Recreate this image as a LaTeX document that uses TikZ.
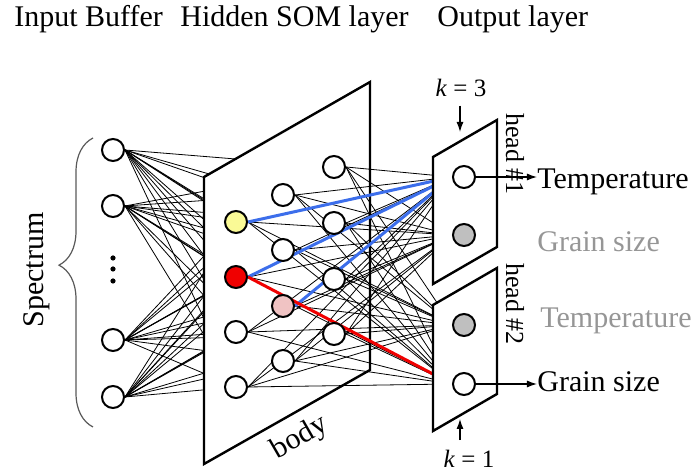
\documentclass[tikz,border=0pt]{standalone}
\usepackage{fontspec}
\setmainfont{Liberation Serif}
\usetikzlibrary{positioning,arrows.meta,decorations.pathreplacing}

\definecolor{bmu_yellow}{RGB}{250,250,150}
\definecolor{bmu_red}{RGB}{240,0,0}
\definecolor{nbr_pink}{RGB}{240,195,195}
\definecolor{win_blue}{RGB}{60,110,235}
\definecolor{off_gray}{RGB}{150,150,150}

\pgfdeclarelayer{wires}
\pgfdeclarelayer{sheet}
\pgfdeclarelayer{links}
\pgfsetlayers{wires,sheet,links,main}

\begin{document}
\begin{tikzpicture}[
    x=0.5pt, y=-0.5pt,
    every node/.style={font=\fontsize{15}{18}\selectfont, inner sep=0pt},
    unit_node/.style={circle, draw, line width=1pt, fill=white, minimum size=11pt},
    out_node/.style={unit_node, fill=gray!50},
    sheet_plane/.style={draw, line width=1.2pt, fill=white},
    wire/.style={line width=0.4pt},
    hot_wire/.style={line width=1.5pt},
    out_arrow/.style={-{Latex[length=5pt,width=3.5pt]}, line width=0.6pt},
    k_label/.style={font=\fontsize{12.5}{15}\selectfont},
    head_label/.style={font=\fontsize{13}{15}\selectfont, rotate=-90},
    off_text/.style={text=off_gray}
]

\useasboundingbox (0,0) rectangle (693,474);

% Layer titles
\node[anchor=base west] (t_in) at (14,27) {Input Buffer};
\node[anchor=base west] (t_som) at (180,27) {Hidden SOM layer};
\node[anchor=base west] (t_out) at (437,27) {Output layer};

% Input buffer
\node[unit_node] (i1) at (113,150) {};
\node[unit_node] (i2) at (113,206) {};
\node[unit_node] (i3) at (113,340) {};
\node[unit_node] (i4) at (113,397) {};
\foreach \y in {258,269,281} \fill (113,\y) circle (1.3pt);

% Spectrum brace
\draw[gray!70!black, line width=0.6pt, decorate,
      decoration={brace, amplitude=17pt, aspect=0.56}] (93,427) -- (93,138);
\node[rotate=90] (spec) at (37,270) {Spectrum};

% Hidden SOM nodes
\node[unit_node, fill=bmu_yellow] (h11) at (236,222) {};
\node[unit_node, fill=bmu_red] (h12) at (236,277) {};
\node[unit_node] (h13) at (236,332) {};
\node[unit_node] (h14) at (236,387) {};
\node[unit_node] (h21) at (283,195) {};
\node[unit_node] (h22) at (283,250) {};
\node[unit_node, fill=nbr_pink] (h23) at (283,306) {};
\node[unit_node] (h24) at (283,361) {};
\node[unit_node] (h31) at (334,167) {};
\node[unit_node] (h32) at (334,223) {};
\node[unit_node] (h33) at (334,279) {};
\node[unit_node] (h34) at (334,334) {};

\node[rotate=30] (body_lbl) at (300,438) {body};

% Output heads
\draw[sheet_plane] (433,157) -- (497,120) -- (497,247) -- (433,284) -- cycle;
\draw[sheet_plane] (433,305) -- (497,268) -- (497,394) -- (433,431) -- cycle;
\node[unit_node] (o1) at (464,177) {};
\node[out_node] (o2) at (464,235) {};
\node[out_node] (o3) at (464,325) {};
\node[unit_node] (o4) at (464,384) {};

\node[head_label] (head1) at (515,154) {head \#1};
\node[head_label] (head2) at (515,304) {head \#2};

% Outputs
\node[anchor=base west] (temp_out) at (537,189) {Temperature};
\node[anchor=base west, off_text] (grain_off) at (537,252) {Grain size};
\node[anchor=base west, off_text] (temp_off) at (540,328) {Temperature};
\node[anchor=base west] (grain_out) at (537,392) {Grain size};
\draw[out_arrow] (o1) -- (o1 -| temp_out.west);
\draw[out_arrow] (o4) -- (o4 -| grain_out.west);

% k labels
\node[k_label, anchor=base] (k3) at (461,97) {\textit{k} = 3};
\node[k_label, anchor=base] (k1) at (469,468) {\textit{k} = 1};
\coordinate (k3_tip) at (460,132);
\coordinate (k1_tip) at (460,419);
\draw[out_arrow, shorten <=4pt] (k3.south -| k3_tip) -- (k3_tip);
\draw[out_arrow, shorten <=5pt] (k1.north -| k1_tip) -- (k1_tip);

% Input -> SOM (behind body)
\begin{pgfonlayer}{wires}
\foreach \i in {1,...,4}
  \foreach \c in {1,2,3}
    \foreach \r in {1,...,4}
      \draw[wire] (i\i.east) -- (h\c\r);
\end{pgfonlayer}

% Body
\begin{pgfonlayer}{sheet}
\draw[sheet_plane] (204,177) -- (370,82) -- (370,370) -- (204,464) -- cycle;
\end{pgfonlayer}

% SOM -> heads
\begin{pgfonlayer}{links}
\foreach \c in {1,2,3}
  \foreach \r in {1,...,4}
    \foreach \o in {1,...,4}
      \draw[wire] (h\c\r.east) -- (o\o.west);
\draw[hot_wire, win_blue] (h11.east) -- (o1.west);
\draw[hot_wire, win_blue] (h12.east) -- (o1.west);
\draw[hot_wire, win_blue] (h23.east) -- (o1.west);
\draw[hot_wire, bmu_red] (h12.east) -- (o4.west);
\end{pgfonlayer}

\end{tikzpicture}
\end{document}
